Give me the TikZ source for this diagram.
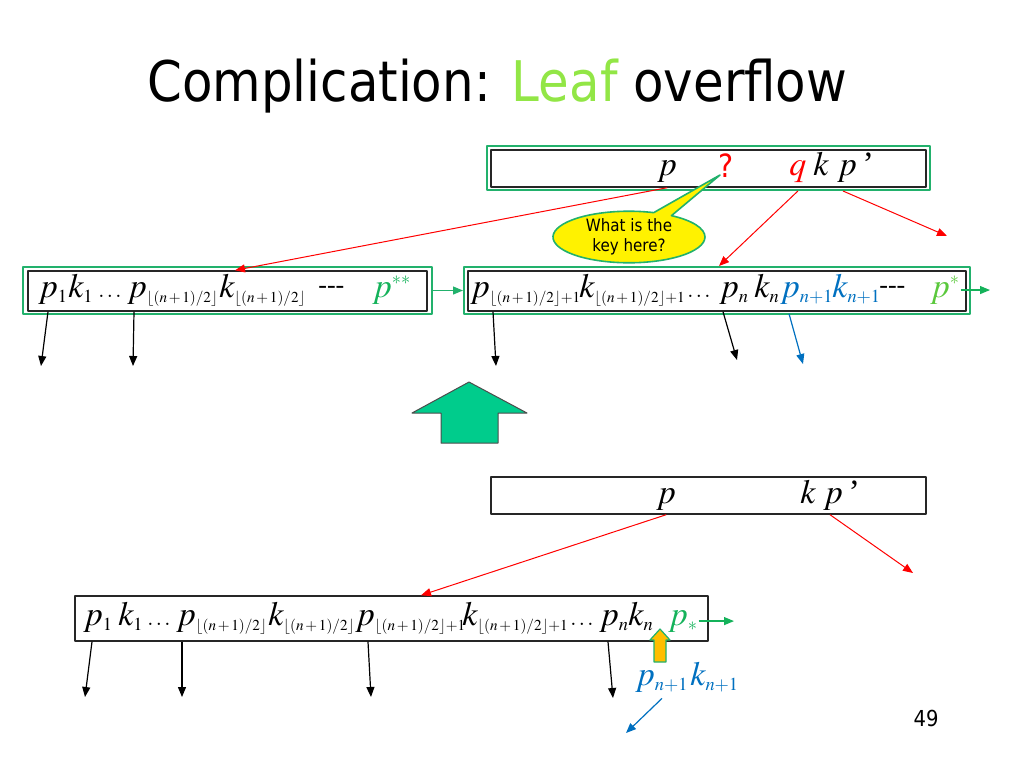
\documentclass[tikz,border=0pt]{standalone}
\usepackage{mathptmx}
\usepackage{fontspec}
\setmainfont{Liberation Serif}
\newfontfamily\tahoma[FakeStretch=0.89]{DejaVu Sans}
\usetikzlibrary{arrows.meta,calc,shapes.callouts}
\DeclareMathSizes{17}{17}{9.2}{7.6}
\definecolor{boxgreen}{RGB}{34,177,108}
\definecolor{pgreen}{RGB}{20,178,90}
\definecolor{lightgreen}{RGB}{90,200,60}
\definecolor{leafgreen}{RGB}{146,230,70}
\definecolor{kblue}{RGB}{0,112,192}
\definecolor{bigarr}{RGB}{0,204,140}
\definecolor{orangearr}{RGB}{255,190,0}
\newcommand\half[1][]{{\scriptscriptstyle\lfloor(n\,+\,1)/2\rfloor#1}}
\begin{document}
\begin{tikzpicture}[x=0.5pt,y=-0.5pt,line join=round,>={Triangle[length=5pt,width=4pt]},
	tok/.style={anchor=base west,inner sep=0,font=\fontsize{17}{20}\selectfont},
	dots/.style={tok,font=\fontsize{11}{13}\selectfont},
	dashes/.style={tok,font=\fontsize{13}{15}\selectfont},
	outbox/.style={draw=boxgreen,line width=1pt,inner sep=0},
	inbox/.style={draw=black!85,line width=0.7pt,inner sep=0},
	redarr/.style={->,red,line width=0.5pt},
	kid/.style={->,black,line width=0.6pt}]
	\useasboundingbox (0,0) rectangle (1024,768);
	\node[anchor=base west,inner sep=0,font=\tahoma\fontsize{28}{32}\selectfont] (title) at (147,101) {Complication: \textcolor{leafgreen}{Leaf} overflow};
	% before the split
	\node[outbox,minimum width=221.5pt,minimum height=22pt] (tout) at (708.5,168) {};
	\node[inbox,minimum width=217.5pt,minimum height=18.5pt] (tbox) at (708.5,168.5) {};
	\node[tok] (tp) at (657,175) {$p$};
	\node[tok,font=\tahoma\fontsize{16}{18}\selectfont,text=red] (tqm) at (718,177) {?};
	\node[tok,text=red] (tq) at (789,175) {$q$};
	\node[tok] (tk) at (813,175) {$k$};
	\node[tok] (tpp) at (837,175) {$p$\,’};
	\node[ellipse callout,draw=boxgreen,fill=yellow,line width=0.8pt,minimum width=76pt,minimum height=23.5pt,inner sep=0,
		callout absolute pointer={(720,175)},align=center,font=\tahoma\fontsize{8.5}{10}\selectfont] (ask) at (629,237) {What is the\\key here?};
	\node[outbox,minimum width=204.5pt,minimum height=23.5pt] (lout) at (227.5,290.5) {};
	\node[inbox,minimum width=199.5pt,minimum height=20pt] (lbox) at (227.5,291) {};
	\node[outbox,minimum width=253pt,minimum height=23.5pt] (rout) at (717,290.5) {};
	\node[inbox,minimum width=249pt,minimum height=20pt] (rbox) at (717,291) {};
	\node[tok] (lp1) at (38,297) {$p_1$};
	\node[tok] (lk1) at (68,297) {$k_1$};
	\node[dots] (ld1) at (98,297) {$\dots$};
	\node[tok] (lpm) at (127,297) {$p_{\half}$};
	\node[tok] (lkm) at (219,297) {$k_{\half}$};
	\node[dashes] (ldash) at (318,293) {-{}-{}-};
	\node[tok,text=pgreen] (lps) at (372,297) {$p^{**}$};
	\node[tok] (rpm) at (470,297) {$p_{\half[+1]}$};
	\node[tok] (rkm) at (579,297) {$k_{\half[+1]}$};
	\node[dots] (rd1) at (687,297) {$\dots$};
	\node[tok] (rpn) at (719,297) {$p_n$};
	\node[tok] (rkn) at (754,297) {$k_n$};
	\node[tok,text=kblue] (rpx) at (780,297) {$p_{n+1}$};
	\node[tok,text=kblue] (rkx) at (832,297) {$k_{n+1}$};
	\node[dashes] (rdash) at (879,293) {-{}-{}-};
	\node[tok,text=lightgreen] (rps) at (930,297) {$p^{*}$};
	\coordinate (rpe) at (990,294);
	\coordinate (r3e) at (947,236);
	\draw[redarr] (tbox.south -| tp) -- ($(lbox.north -| lkm.west)+(16,0)$);
	\draw[redarr] (tout.south -| tq) -- (rout.north -| rpn.west);
	\draw[redarr] ($(tout.south -| tpp.west)+(6,0)$) -- (r3e);
	\draw[->,boxgreen,line width=0.6pt] (lout.east) -- (rout.west);
	\draw[->,pgreen,line width=0.6pt] (rps.east) -- (rps.east -| rpe);
	\foreach \n/\dx/\ex/\ey in {lp1/10/41/366,lpm/7/133/366,rpm/23/496/366,rpn/4/737/360}
	\draw[kid] ($(lbox.south -| \n.west)+(\dx,0)$) -- (\ex,\ey);
	\draw[->,kblue,line width=0.6pt] ($(rbox.south -| rpx.west)+(9,2)$) -- (803,364);
	% big arrow
	\filldraw[fill=bigarr,draw=black!70,line width=0.5pt] (469,382) -- (527,413) -- (498,413) -- (498,443) -- (441,443) -- (441,413) -- (412,413) -- cycle;
	% after the split
	\node[inbox,minimum width=217.5pt,minimum height=18.5pt] (btop) at (708.5,495.5) {};
	\node[tok] (bp) at (656,503) {$p$};
	\node[tok] (bk) at (800,503) {$k$};
	\node[tok] (bpp) at (823,503) {$p$\,’};
	\node[inbox,minimum width=316.5pt,minimum height=22.5pt] (bnode) at (391.5,618.5) {};
	\node[tok] (bp1) at (83,625) {$p_1$};
	\node[tok] (bk1) at (118,625) {$k_1$};
	\node[dots] (bd1) at (147,625) {$\dots$};
	\node[tok] (bpm) at (176,625) {$p_{\half}$};
	\node[tok] (bkm) at (268,625) {$k_{\half}$};
	\node[tok] (bpq) at (355,625) {$p_{\half[+1]}$};
	\node[tok] (bkq) at (462,625) {$k_{\half[+1]}$};
	\node[dots] (bd2) at (570,625) {$\dots$};
	\node[tok] (bpn) at (599,625) {$p_n$};
	\node[tok] (bkn) at (628,625) {$k_n$};
	\node[tok,text=pgreen] (bps) at (668,625) {$p_*$};
	\node[tok,text=kblue] (bnp) at (635,685) {$p_{n+1}$};
	\node[tok,text=kblue] (bnk) at (690,685) {$k_{n+1}$};
	\coordinate (bpe) at (734,618);
	\coordinate (r5e) at (913,573);
	\draw[redarr] (btop.south -| bp) -- ($(bnode.north -| bpq.west)+(66,0)$);
	\draw[redarr] ($(btop.south -| bpp.west)+(7,0)$) -- (r5e);
	\draw[->,pgreen,line width=0.6pt] (bps.east) -- (bps.east -| bpe);
	\foreach \n/\dx/\ex/\ey in {bp1/9/85/697,bpm/6/182/697,bpq/13/371/697,bpn/9/613/698}
	\draw[kid] ($(bnode.south -| \n.west)+(\dx,0)$) -- (\ex,\ey);
	\filldraw[fill=orangearr,draw=boxgreen,line width=0.6pt] (660,629) -- (670,640) -- (666,640) -- (666,662) -- (654,662) -- (654,640) -- (650,640) -- cycle;
	\draw[->,kblue,line width=0.6pt] ($(bnp.south)+(0,6)$) -- (626,733);
	\node[anchor=base,inner sep=0,font=\tahoma\fontsize{11}{12}\selectfont] (pg) at (926,726) {49};
\end{tikzpicture}
\end{document}
